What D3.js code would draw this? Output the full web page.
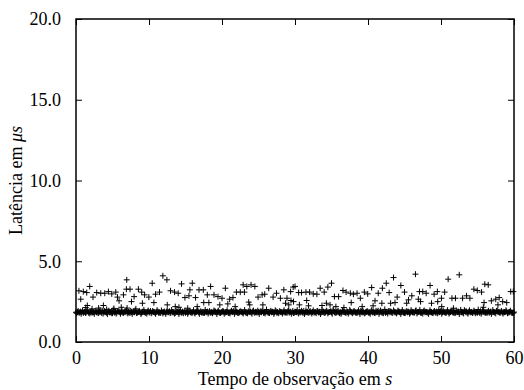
<!DOCTYPE html>
<html>
<head>
<meta charset="utf-8">
<script src="https://cdn.jsdelivr.net/npm/d3@7"></script>
<style>
  body { margin: 0; background: #fff; }
  svg text { font-family: "Liberation Serif", "Times New Roman", serif; fill: #000; }
</style>
</head>
<body>
<div id="chart"></div>
<script>
const xTicks = [0, 10, 20, 30, 40, 50, 60];
const yTicks = [0, 5, 10, 15, 20];

// steady latency samples, one every sampleStep seconds
const sampleStep = 0.2;
const baseline = [
  1.84,1.86,1.82,1.88,1.85,1.80,1.87,1.84,1.90,1.83,1.86,1.81,1.85,1.89,1.84,1.82,1.87,1.85,1.93,1.83,
  1.85,1.81,1.88,1.84,1.86,1.79,1.85,1.87,1.83,1.90,1.84,1.86,1.82,1.85,1.88,1.83,1.86,1.80,1.85,1.87,
  1.84,1.89,1.82,1.86,1.84,1.81,1.87,1.85,1.83,1.88,1.84,1.92,1.83,1.86,1.82,1.85,1.89,1.84,1.81,1.86,
  1.85,1.83,1.87,1.84,1.90,1.82,1.86,1.85,1.80,1.87,1.84,1.86,1.83,1.88,1.85,1.81,1.86,1.84,1.89,1.83,
  1.86,1.82,1.85,1.95,1.84,1.87,1.83,1.86,1.81,1.85,1.88,1.84,1.82,1.86,1.85,1.90,1.83,1.87,1.84,1.80,
  1.85,1.88,1.83,1.86,1.84,1.82,1.87,1.85,1.91,1.84,1.86,1.81,1.85,1.88,1.83,1.86,1.84,1.79,1.87,1.85,
  1.83,1.89,1.84,1.86,1.82,1.85,1.87,1.84,1.94,1.83,1.86,1.85,1.81,1.88,1.84,1.86,1.83,1.90,1.85,1.82,
  1.86,1.84,1.87,1.83,1.85,1.89,1.82,1.86,1.84,1.80,1.87,1.85,1.83,1.88,1.84,1.86,1.92,1.83,1.85,1.81,
  1.87,1.84,1.86,1.82,1.85,1.90,1.84,1.87,1.83,1.86,1.81,1.85,1.88,1.84,1.86,1.83,1.96,1.85,1.82,1.87,
  1.84,1.86,1.83,1.88,1.85,1.81,1.86,1.84,1.89,1.83,1.87,1.85,1.82,1.86,1.84,1.91,1.83,1.85,1.80,1.87,
  1.85,1.83,1.88,1.84,1.86,1.82,1.85,1.93,1.84,1.87,1.83,1.86,1.81,1.85,1.89,1.84,1.86,1.82,1.87,1.85,
  1.84,1.90,1.83,1.86,1.85,1.81,1.87,1.84,1.86,1.82,1.88,1.85,1.83,1.95,1.84,1.86,1.82,1.85,1.89,1.84,
  1.86,1.83,1.87,1.85,1.80,1.86,1.84,1.88,1.83,1.85,1.91,1.84,1.86,1.82,1.87,1.85,1.83,1.89,1.84,1.86,
  1.82,1.85,1.88,1.84,1.86,1.83,1.97,1.85,1.81,1.87,1.84,1.86,1.83,1.88,1.85,1.82,1.86,1.90,1.84,1.87,
  1.83,1.85,1.86,1.81,1.88,1.84,1.86,1.83,1.92,1.85,1.84,1.87,1.82,1.86,1.85,1.89,1.83,1.86,1.84,1.81,
  1.85
];
// the samples in between (t = 0.1, 0.3, ...)
const baselineMid = [
  1.78,1.92,1.83,1.75,1.95,1.86,1.80,1.98,1.82,1.77,1.90,1.85,1.74,1.93,1.88,1.79,1.96,1.81,1.76,1.91,
  1.87,1.73,1.94,1.84,1.78,2.00,1.82,1.76,1.92,1.89,1.75,1.95,1.80,1.86,1.97,1.77,1.83,1.93,1.74,1.88,
  1.96,1.79,1.85,1.91,1.73,1.87,1.99,1.81,1.76,1.94,1.84,1.78,1.92,1.86,1.75,1.97,1.82,1.80,1.95,1.77,
  1.89,1.74,1.93,1.85,1.79,1.98,1.83,1.76,1.91,1.88,1.73,1.96,1.81,1.78,1.94,1.86,1.75,1.92,1.84,1.80,
  1.97,1.77,1.87,1.93,1.74,1.90,1.82,1.79,1.99,1.85,1.76,1.91,1.83,1.78,1.95,1.88,1.73,1.94,1.81,1.86,
  1.92,1.75,1.84,1.97,1.80,1.77,1.93,1.87,1.74,1.96,1.82,1.79,1.90,1.85,1.76,1.98,1.83,1.78,1.92,1.88,
  1.75,1.95,1.81,1.86,1.94,1.73,1.89,1.91,1.80,1.77,2.01,1.84,1.79,1.93,1.87,1.74,1.96,1.82,1.78,1.91,
  1.85,1.76,1.97,1.83,1.80,1.94,1.88,1.75,1.92,1.81,1.86,1.98,1.77,1.84,1.93,1.79,1.74,1.95,1.87,1.82,
  1.90,1.76,1.96,1.85,1.78,1.92,1.83,1.73,1.99,1.88,1.80,1.94,1.77,1.86,1.91,1.75,1.97,1.81,1.84,1.93,
  1.79,1.74,1.95,1.87,1.82,1.90,1.76,1.98,1.85,1.78,1.92,1.83,1.80,1.96,1.73,1.88,1.94,1.77,1.86,1.91,
  1.81,1.75,1.97,1.84,1.79,1.93,1.87,1.74,1.95,1.82,1.78,2.02,1.85,1.76,1.92,1.89,1.80,1.96,1.83,1.77,
  1.94,1.86,1.73,1.98,1.81,1.79,1.91,1.88,1.75,1.97,1.84,1.82,1.93,1.77,1.86,1.99,1.80,1.76,1.95,1.87,
  1.83,1.74,1.96,1.85,1.79,1.92,1.81,1.78,2.00,1.88,1.75,1.94,1.84,1.80,1.97,1.76,1.86,1.93,1.82,1.79,
  1.95,1.87,1.73,1.99,1.83,1.77,1.91,1.89,1.76,1.96,1.85,1.80,1.94,1.78,1.84,2.01,1.81,1.75,1.97,1.88,
  1.82,1.79,1.93,1.86,1.74,1.98,1.84,1.77,1.95,1.87,1.80,1.92,1.76,1.85,1.96,1.78,1.83,1.94,1.81,1.79
];

// occasional slower samples (time in s, latency in µs)
const spikeTime = [
  0.4,0.65,1.0,1.33,1.47,1.55,1.88,2.2,2.33,2.84,3.1,3.39,3.75,3.94,4.2,4.44,4.9,5.2,5.45,5.68,
  5.9,6.2,6.5,6.9,6.95,7.0,7.4,7.6,7.96,8.2,8.55,9.0,9.1,9.4,9.98,
  10.44,10.67,10.9,11.44,11.9,12.45,12.5,12.95,13.5,13.6,14.0,14.1,14.46,14.92,15.3,15.47,15.6,15.93,
  16.38,16.6,16.85,17.44,17.5,17.99,18.2,18.44,18.9,19.45,19.7,
  20.0,20.46,20.8,21.05,21.5,21.8,21.97,22.5,22.9,23.07,23.4,23.66,23.8,23.98,24.5,24.94,25.5,25.6,
  25.85,26.4,27.0,27.46,28.0,28.47,28.7,28.9,29.15,29.4,29.45,29.75,29.8,
  30.0,30.5,30.6,30.9,31.5,31.6,31.86,32.0,32.5,33.0,33.45,33.7,34.0,34.3,34.5,34.8,35.0,35.4,35.6,
  35.97,36.57,36.7,37.0,37.58,37.7,38.0,38.5,38.95,39.2,39.5,39.96,
  40.5,40.7,40.96,41.4,41.9,41.97,42.5,42.9,43.1,43.5,43.7,44.0,44.5,45.0,45.3,45.55,46.0,46.5,46.9,
  47.05,47.2,47.5,47.97,48.5,48.7,49.06,49.5,49.55,
  50.06,50.1,50.5,50.98,51.5,51.7,51.98,52.5,52.96,53.5,53.96,54.5,54.97,55.56,55.8,55.9,56.0,56.47,
  56.9,57.5,57.8,57.97,58.45,59.0,59.55,59.9
];
const spikeValue = [
  3.17,2.65,3.12,2.13,3.06,2.26,3.44,2.05,2.78,3.06,2.10,3.02,2.26,3.02,2.02,3.12,2.98,2.08,3.09,2.78,
  2.55,2.15,2.92,3.27,3.85,2.10,3.27,2.50,2.81,2.05,3.27,3.09,2.40,2.92,2.78,
  3.64,2.44,2.96,3.09,4.10,3.85,2.30,3.17,3.09,2.19,3.02,2.15,3.60,2.75,2.09,2.86,3.23,3.64,
  2.75,2.19,3.23,3.23,2.44,2.92,2.44,3.44,2.92,2.81,2.30,
  2.71,3.33,2.36,2.65,2.75,2.19,3.09,3.09,3.54,3.09,3.44,2.47,2.30,3.54,3.44,2.78,2.92,2.30,
  2.96,3.33,2.78,3.02,2.71,3.23,2.40,2.71,2.30,3.12,2.57,3.40,2.50,
  3.44,3.06,2.30,3.06,3.09,2.57,2.24,3.09,2.98,2.96,3.33,2.26,3.09,2.40,3.40,2.30,3.64,2.81,2.19,
  2.81,3.19,2.13,3.09,3.02,2.44,2.96,3.02,2.71,2.19,3.09,2.98,
  3.37,2.24,2.55,3.02,2.40,3.33,3.64,3.06,2.40,3.99,2.44,2.78,3.50,3.09,2.40,2.61,2.86,4.20,2.65,
  3.12,2.50,3.12,3.02,3.50,2.40,2.96,3.12,2.50,
  2.71,2.19,3.09,3.89,2.71,2.09,2.71,4.16,2.71,2.86,2.71,3.27,3.19,3.09,2.15,2.44,3.58,3.54,
  2.55,2.65,2.30,2.75,2.50,2.44,3.12,3.12
];

const width = 524;
const height = 390;
const margin = { top: 19, right: 10, bottom: 48, left: 76 };

const points = baseline.map((v, i) => [i * sampleStep, v])
  .concat(baselineMid.map((v, i) => [(i + 0.5) * sampleStep, v]))
  .concat(spikeTime.map((t, i) => [t, spikeValue[i]]));

const svg = d3.select('#chart')
  .append('svg')
  .attr('width', width)
  .attr('height', height);

const xScale = d3.scaleLinear()
  .domain([0, 60])
  .range([margin.left, width - margin.right]);

const yScale = d3.scaleLinear()
  .domain([0, 20])
  .range([height - margin.bottom, margin.top]);

const x0 = margin.left;
const x1 = width - margin.right;
const y0 = height - margin.bottom;
const y1 = margin.top;

// markers: gnuplot-like "+"
const plus = 'M-3,0H3M0,-3V3';
svg.append('g')
  .selectAll('path')
  .data(points)
  .enter()
  .append('path')
  .attr('d', plus)
  .attr('transform', (d) => `translate(${xScale(d[0])},${yScale(d[1])})`)
  .attr('fill', 'none')
  .attr('stroke', '#000')
  .attr('stroke-width', 1);

// ticks on all four sides, pointing inward
const tickLen = 6;
const xAxisBottom = (g) => {
  g.attr('transform', `translate(0, ${y0})`)
    .call(d3.axisBottom(xScale).tickValues(xTicks).tickSizeInner(-tickLen).tickSizeOuter(0).tickPadding(9).tickFormat(d3.format('d')));
};
const xAxisTop = (g) => {
  g.attr('transform', `translate(0, ${y1})`)
    .call(d3.axisTop(xScale).tickValues(xTicks).tickSizeInner(-tickLen).tickSizeOuter(0).tickFormat(''));
};
const yAxisLeft = (g) => {
  g.attr('transform', `translate(${x0}, 0)`)
    .call(d3.axisLeft(yScale).tickValues(yTicks).tickSizeInner(-tickLen).tickSizeOuter(0).tickPadding(15).tickFormat(d3.format('.1f')));
};
const yAxisRight = (g) => {
  g.attr('transform', `translate(${x1}, 0)`)
    .call(d3.axisRight(yScale).tickValues(yTicks).tickSizeInner(-tickLen).tickSizeOuter(0).tickFormat(''));
};
[xAxisBottom, xAxisTop, yAxisLeft, yAxisRight].forEach((axis) => {
  const g = svg.append('g').call(axis).attr('font-family', null);
  g.select('.domain').remove();
  g.selectAll('line').attr('stroke', '#000');
  g.selectAll('text').attr('font-size', 18);
});

// frame
svg.append('rect')
  .attr('x', x0)
  .attr('y', y1)
  .attr('width', x1 - x0)
  .attr('height', y0 - y1)
  .attr('fill', 'none')
  .attr('stroke', '#000')
  .attr('stroke-width', 1.5);

const xLabel = svg.append('text')
  .attr('text-anchor', 'middle')
  .attr('x', 295)
  .attr('y', height - 5)
  .attr('font-size', 18);
xLabel.append('tspan').text('Tempo de observação em ');
xLabel.append('tspan').attr('font-style', 'italic').text('s');

const yLabel = svg.append('text')
  .attr('text-anchor', 'middle')
  .attr('transform', `translate(22, ${(y0 + y1) / 2}) rotate(-90)`)
  .attr('font-size', 18);
yLabel.append('tspan').text('Latência em ');
yLabel.append('tspan').attr('font-style', 'italic').text('μs');
</script>
</body>
</html>
